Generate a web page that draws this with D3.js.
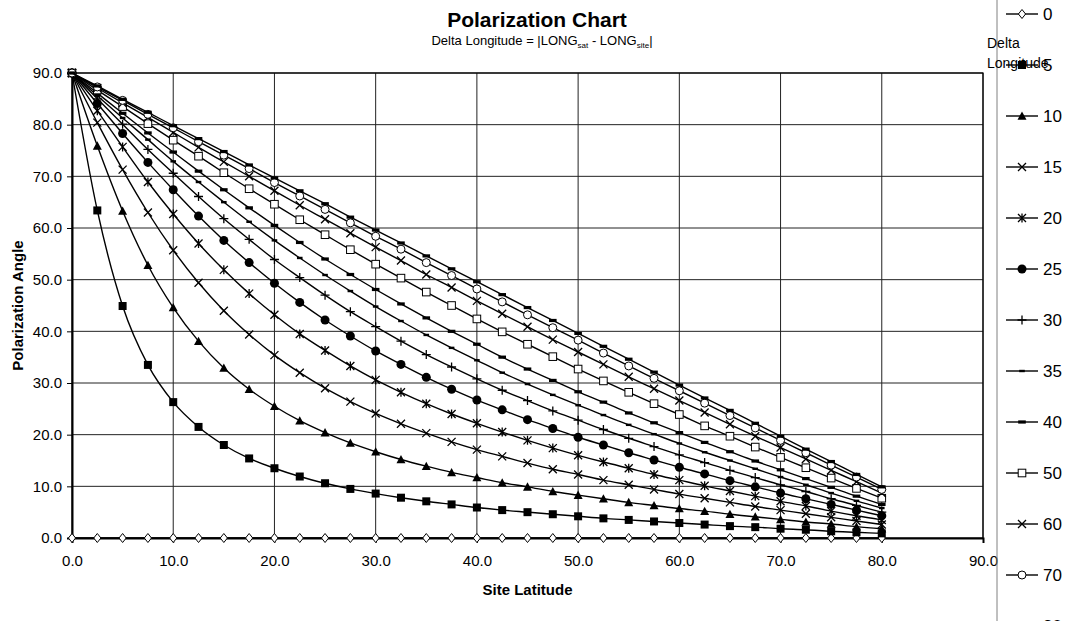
<!DOCTYPE html>
<html>
<head>
<meta charset="utf-8">
<script src="https://cdn.jsdelivr.net/npm/d3@7"></script>
<style>
  body { margin: 0; background: #fff; }
  svg { font-family: "Liberation Sans", Arial, sans-serif; }
</style>
</head>
<body>
<div id="chart"></div>
<script>
// site latitude (x) and delta longitude (one series each)
const latitudes = [0, 2.5, 5, 7.5, 10, 12.5, 15, 17.5, 20, 22.5, 25, 27.5, 30, 32.5, 35, 37.5, 40,
    42.5, 45, 47.5, 50, 52.5, 55, 57.5, 60, 62.5, 65, 67.5, 70, 72.5, 75, 77.5, 80];
const deltaLongitudes = [0, 5, 10, 15, 20, 25, 30, 35, 40, 50, 60, 70, 80];

const angle0  = [0, 0, 0, 0, 0, 0, 0, 0, 0, 0, 0, 0, 0, 0, 0, 0, 0, 0, 0, 0, 0, 0, 0, 0, 0, 0, 0, 0, 0, 0, 0, 0, 0];
const angle5  = [90, 63.4, 44.9, 33.5, 26.3, 21.5, 18.0, 15.4, 13.5, 11.9, 10.6, 9.5, 8.6, 7.8, 7.1, 6.5, 5.9, 5.4, 5.0, 4.6, 4.2, 3.8, 3.5, 3.2, 2.9, 2.6, 2.3, 2.1, 1.8, 1.6, 1.3, 1.1, 0.9];
const angle10 = [90, 75.9, 63.3, 52.8, 44.6, 38.1, 32.9, 28.8, 25.5, 22.7, 20.4, 18.4, 16.7, 15.2, 13.9, 12.7, 11.7, 10.7, 9.9, 9.0, 8.3, 7.6, 6.9, 6.3, 5.7, 5.2, 4.6, 4.1, 3.6, 3.1, 2.7, 2.2, 1.8];
const angle15 = [90, 80.4, 71.3, 63.0, 55.7, 49.4, 44.0, 39.4, 35.4, 32.0, 29.0, 26.4, 24.1, 22.1, 20.3, 18.6, 17.1, 15.8, 14.5, 13.3, 12.3, 11.2, 10.3, 9.4, 8.5, 7.7, 6.9, 6.1, 5.4, 4.7, 4.0, 3.3, 2.6];
const angle20 = [90, 82.7, 75.7, 68.9, 62.7, 57.0, 51.9, 47.3, 43.2, 39.5, 36.3, 33.3, 30.6, 28.2, 26.0, 24.0, 22.2, 20.5, 18.9, 17.4, 16.0, 14.7, 13.5, 12.3, 11.2, 10.1, 9.1, 8.1, 7.1, 6.2, 5.2, 4.3, 3.5];
const angle25 = [90, 84.1, 78.3, 72.7, 67.4, 62.3, 57.6, 53.3, 49.3, 45.6, 42.2, 39.1, 36.2, 33.6, 31.1, 28.8, 26.7, 24.8, 22.9, 21.2, 19.5, 18.0, 16.5, 15.1, 13.7, 12.4, 11.1, 9.9, 8.7, 7.6, 6.5, 5.4, 4.3];
const angle30 = [90, 85.0, 80.1, 75.2, 70.6, 66.1, 61.8, 57.8, 53.9, 50.4, 47.0, 43.8, 40.9, 38.1, 35.5, 33.1, 30.8, 28.6, 26.6, 24.6, 22.8, 21.0, 19.3, 17.7, 16.1, 14.6, 13.1, 11.7, 10.3, 9.0, 7.6, 6.3, 5.0];
const angle35 = [90, 85.6, 81.3, 77.1, 72.9, 68.9, 65.0, 61.2, 57.6, 54.2, 50.9, 47.8, 44.8, 42.0, 39.3, 36.8, 34.4, 32.0, 29.8, 27.7, 25.7, 23.8, 21.9, 20.1, 18.3, 16.6, 15.0, 13.4, 11.8, 10.3, 8.7, 7.2, 5.8];
const angle40 = [90, 86.1, 82.2, 78.4, 74.7, 71.0, 67.4, 63.9, 60.5, 57.2, 54.0, 51.0, 48.1, 45.3, 42.6, 40.0, 37.5, 35.0, 32.7, 30.5, 28.3, 26.3, 24.2, 22.3, 20.4, 18.5, 16.7, 14.9, 13.2, 11.5, 9.8, 8.1, 6.5];
const angle50 = [90, 86.7, 83.5, 80.2, 77.0, 73.9, 70.7, 67.6, 64.6, 61.6, 58.7, 55.8, 53.0, 50.3, 47.6, 45.0, 42.4, 39.9, 37.5, 35.1, 32.7, 30.4, 28.2, 26.0, 23.9, 21.7, 19.7, 17.6, 15.6, 13.6, 11.6, 9.6, 7.7];
const angle60 = [90, 87.1, 84.2, 81.4, 78.5, 75.6, 72.8, 70.0, 67.2, 64.4, 61.7, 59.0, 56.3, 53.7, 51.0, 48.5, 45.9, 43.4, 40.9, 38.4, 36.0, 33.6, 31.2, 28.9, 26.6, 24.3, 22.0, 19.7, 17.5, 15.3, 13.1, 10.9, 8.7];
const angle70 = [90, 87.3, 84.7, 82.0, 79.4, 76.7, 74.1, 71.5, 68.8, 66.2, 63.6, 61.0, 58.4, 55.9, 53.3, 50.8, 48.2, 45.7, 43.2, 40.7, 38.3, 35.8, 33.3, 30.9, 28.5, 26.1, 23.7, 21.3, 18.9, 16.5, 14.1, 11.8, 9.4];
const angle80 = [90, 87.5, 84.9, 82.4, 79.8, 77.3, 74.8, 72.2, 69.7, 67.2, 64.7, 62.1, 59.6, 57.1, 54.6, 52.1, 49.6, 47.1, 44.6, 42.1, 39.6, 37.1, 34.6, 32.1, 29.6, 27.1, 24.7, 22.2, 19.7, 17.2, 14.8, 12.3, 9.9];

const seriesValues = [angle0, angle5, angle10, angle15, angle20, angle25, angle30,
    angle35, angle40, angle50, angle60, angle70, angle80];

const xTicks = [0, 10, 20, 30, 40, 50, 60, 70, 80, 90];
const yTicks = [0, 10, 20, 30, 40, 50, 60, 70, 80, 90];

// marker look per series (same order as deltaLongitudes)
const markerTypes = ["diamondOpen", "square", "triangle", "x", "asterisk", "circle", "plus",
    "dashShort", "dashLong", "squareOpen", "x", "circleOpen", "dashLong"];

const width = 1068, height = 621;
const plot = {left: 72, right: 983, top: 73, bottom: 538};

let svg = d3.select("#chart")
    .append("svg")
    .attr("width", width)
    .attr("height", height);

let x = d3.scaleLinear().domain([0, 90]).range([plot.left, plot.right]);
let y = d3.scaleLinear().domain([0, 90]).range([plot.bottom, plot.top]);

// gridlines
svg.append("g").selectAll("line").data(yTicks.slice(1)).enter()
    .append("line")
    .attr("x1", plot.left).attr("x2", plot.right)
    .attr("y1", d => y(d)).attr("y2", d => y(d))
    .attr("stroke", "#222").attr("stroke-width", 1);

svg.append("g").selectAll("line").data(xTicks.slice(1)).enter()
    .append("line")
    .attr("x1", d => x(d)).attr("x2", d => x(d))
    .attr("y1", plot.top).attr("y2", plot.bottom)
    .attr("stroke", "#222").attr("stroke-width", 1);

svg.append("rect")
    .attr("x", plot.left).attr("y", plot.top)
    .attr("width", plot.right - plot.left).attr("height", plot.bottom - plot.top)
    .attr("fill", "none").attr("stroke", "#000").attr("stroke-width", 1.2);

// axes
let yAxis = svg.append("g")
    .attr("transform", `translate(${plot.left},0)`)
    .call(d3.axisLeft(y).tickValues(yTicks).tickFormat(d3.format(".1f")).tickSize(5).tickPadding(5));

let xAxis = svg.append("g")
    .attr("transform", `translate(0,${plot.bottom})`)
    .call(d3.axisBottom(x).tickValues(xTicks).tickFormat(d3.format(".1f")).tickSize(5).tickPadding(12));

[yAxis, xAxis].forEach(function(a) {
    a.select(".domain").attr("stroke", "#000").attr("stroke-width", 2);
    a.selectAll(".tick line").attr("stroke", "#000");
    a.selectAll("text").style("font-size", "15px").attr("fill", "#000");
});

// markers
function marker(sel, type) {
    if (type == "diamondOpen") {
        sel.append("path").attr("d", "M0,-4.5L3.6,0L0,4.5L-3.6,0Z")
            .attr("fill", "#fff").attr("stroke", "#000").attr("stroke-width", 1);
    } else if (type == "square") {
        sel.append("rect").attr("x", -4).attr("y", -4).attr("width", 8).attr("height", 8).attr("fill", "#000");
    } else if (type == "triangle") {
        sel.append("path").attr("d", "M0,-4.5L4.5,3.8L-4.5,3.8Z").attr("fill", "#000");
    } else if (type == "x") {
        sel.append("path").attr("d", "M-4,-4L4,4M4,-4L-4,4").attr("stroke", "#000").attr("stroke-width", 1.3);
    } else if (type == "asterisk") {
        sel.append("path").attr("d", "M-4,-4L4,4M4,-4L-4,4M0,-4.5L0,4.5").attr("stroke", "#000").attr("stroke-width", 1.3);
    } else if (type == "circle") {
        sel.append("circle").attr("r", 4.5).attr("fill", "#000");
    } else if (type == "plus") {
        sel.append("path").attr("d", "M-4.5,0H4.5M0,-4.5V4.5").attr("stroke", "#000").attr("stroke-width", 1.3);
    } else if (type == "dashShort") {
        sel.append("rect").attr("x", -2.8).attr("y", -1.2).attr("width", 5.6).attr("height", 2.4).attr("fill", "#000");
    } else if (type == "dashLong") {
        sel.append("rect").attr("x", -3.8).attr("y", -1.6).attr("width", 7.6).attr("height", 3.2).attr("fill", "#000");
    } else if (type == "squareOpen") {
        sel.append("rect").attr("x", -3.8).attr("y", -3.8).attr("width", 7.6).attr("height", 7.6)
            .attr("fill", "#fff").attr("stroke", "#000").attr("stroke-width", 1);
    } else if (type == "circleOpen") {
        sel.append("circle").attr("r", 4).attr("fill", "#fff").attr("stroke", "#000").attr("stroke-width", 1);
    }
}

let line = d3.line()
    .x((d, i) => x(latitudes[i]))
    .y(d => y(d))
    .curve(d3.curveMonotoneX);

let series = svg.append("g");

seriesValues.forEach(function(vals, s) {
    let g = series.append("g");
    g.append("path")
        .attr("d", line(vals))
        .attr("fill", "none")
        .attr("stroke", "#000")
        .attr("stroke-width", 1.4);
    g.selectAll("g.pt").data(vals).enter()
        .append("g")
        .attr("class", "pt")
        .attr("transform", (d, i) => `translate(${x(latitudes[i])},${y(d)})`)
        .each(function() { marker(d3.select(this), markerTypes[s]); });
});

// titles
svg.append("text")
    .attr("x", 537).attr("y", 27)
    .style("text-anchor", "middle")
    .style("font-size", "21px").style("font-weight", "bold")
    .text("Polarization Chart");

let sub = svg.append("text")
    .attr("x", 542).attr("y", 45)
    .style("text-anchor", "middle")
    .style("font-size", "13px");
sub.append("tspan").text("Delta Longitude = |LONG");
sub.append("tspan").attr("dy", 3).style("font-size", "8px").text("sat");
sub.append("tspan").attr("dy", -3).text(" - LONG");
sub.append("tspan").attr("dy", 3).style("font-size", "8px").text("site");
sub.append("tspan").attr("dy", -3).text("|");

svg.append("text")
    .attr("x", (plot.left + plot.right) / 2).attr("y", 595)
    .style("text-anchor", "middle")
    .style("font-size", "15px").style("font-weight", "bold")
    .text("Site Latitude");

svg.append("text")
    .attr("transform", `translate(23, ${(plot.top + plot.bottom) / 2}) rotate(-90)`)
    .style("text-anchor", "middle")
    .style("font-size", "15px").style("font-weight", "bold")
    .text("Polarization Angle");

// legend
svg.append("line")
    .attr("x1", 997).attr("x2", 997).attr("y1", 0).attr("y2", height)
    .attr("stroke", "#808080").attr("stroke-width", 1);

let legend = svg.append("g");
deltaLongitudes.forEach(function(d, i) {
    let ly = 14 + 51 * i;
    let item = legend.append("g").attr("transform", `translate(0,${ly})`);
    item.append("line").attr("x1", 1006).attr("x2", 1038).attr("y1", 0).attr("y2", 0)
        .attr("stroke", "#000").attr("stroke-width", 1.4);
    marker(item.append("g").attr("transform", "translate(1022,0)"), markerTypes[i]);
    item.append("text").attr("x", 1043).attr("y", 0).attr("dy", "0.36em")
        .style("font-size", "17px").text(d);
});

svg.append("text").attr("x", 987).attr("y", 48).style("font-size", "14px").text("Delta");
svg.append("text").attr("x", 987).attr("y", 68).style("font-size", "14px").text("Longitude");
</script>
</body>
</html>
